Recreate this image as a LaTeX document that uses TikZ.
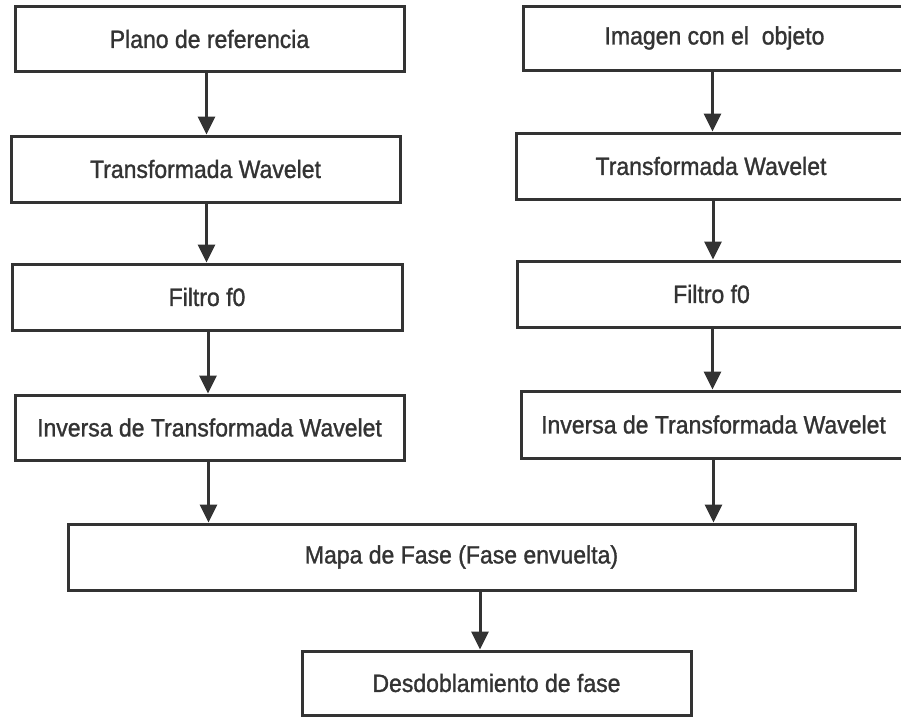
\documentclass[tikz,border=0pt]{standalone}
\usepackage{fontspec}
\setmainfont{Liberation Sans}[FakeStretch=0.92,FakeBold=1.2]
\usetikzlibrary{arrows.meta}
\colorlet{boxGray}{black!80}
\tikzset{
    procBox/.style={draw=boxGray, line width=3pt, rectangle, inner sep=0pt,
        text=boxGray, font=\fontsize{25}{29}\selectfont, minimum height=65pt},
    flowArrow/.style={draw=boxGray, line width=3pt,
        -{Triangle[width=17pt,length=18pt]}}
}

\begin{document}
\begin{tikzpicture}[x=1pt,y=-1pt]
    \useasboundingbox (0,0) rectangle (901,716);
    \clip (0,0) rectangle (901,716);
    \fill[white] (0,0) rectangle (901,716);
    % columna izquierda
    \node[procBox, minimum width=389pt] (plano) at (209.5,39) {Plano de referencia};
    \node[procBox, minimum width=389pt, minimum height=66pt] (twIzq) at (205.5,169) {Transformada Wavelet};
    \node[procBox, minimum width=390pt, minimum height=66pt] (filtroIzq) at (207,297) {Filtro f0};
    \node[procBox, minimum width=389pt] (invIzq) at (209.5,427.5) {Inversa de Transformada Wavelet};
    % columna derecha
    \node[procBox, minimum width=383pt, minimum height=64pt] (imagen) at (714.5,38) {Imagen con el \ objeto};
    \node[procBox, minimum width=390pt, minimum height=66pt] (twDer) at (711,166) {Transformada Wavelet};
    \node[procBox, minimum width=389pt, minimum height=66pt] (filtroDer) at (711.5,294) {Filtro f0};
    \node[procBox, minimum width=385pt, minimum height=67pt] (invDer) at (713.5,424.5) {Inversa de Transformada Wavelet};
    % parte inferior
    \node[procBox, minimum width=787pt, minimum height=66pt] (mapa) at (461.5,557) {Mapa de Fase (Fase envuelta)};
    \node[procBox, minimum width=389pt, minimum height=64pt] (desdobla) at (496.5,683) {Desdoblamiento de fase};
    % flechas
    \draw[flowArrow] ([xshift=-3pt]plano.south) -- ([xshift=-3pt]plano.south |- twIzq.north);
    \draw[flowArrow] ([xshift=1pt]twIzq.south) -- ([xshift=1pt]twIzq.south |- filtroIzq.north);
    \draw[flowArrow] ([xshift=1pt]filtroIzq.south) -- ([xshift=1pt]filtroIzq.south |- invIzq.north);
    \draw[flowArrow] ([xshift=-1pt]invIzq.south) -- ([xshift=-1pt]invIzq.south |- mapa.north);
    \draw[flowArrow] ([xshift=-2pt]imagen.south) -- ([xshift=-2pt]imagen.south |- twDer.north);
    \draw[flowArrow] ([xshift=2pt]twDer.south) -- ([xshift=2pt]twDer.south |- filtroDer.north);
    \draw[flowArrow] ([xshift=1pt]filtroDer.south) -- ([xshift=1pt]filtroDer.south |- invDer.north);
    \draw[flowArrow] (invDer.south) -- (invDer.south |- mapa.north);
    \draw[flowArrow] ([xshift=18.5pt]mapa.south) -- ([xshift=18.5pt]mapa.south |- desdobla.north);
\end{tikzpicture}
\end{document}
